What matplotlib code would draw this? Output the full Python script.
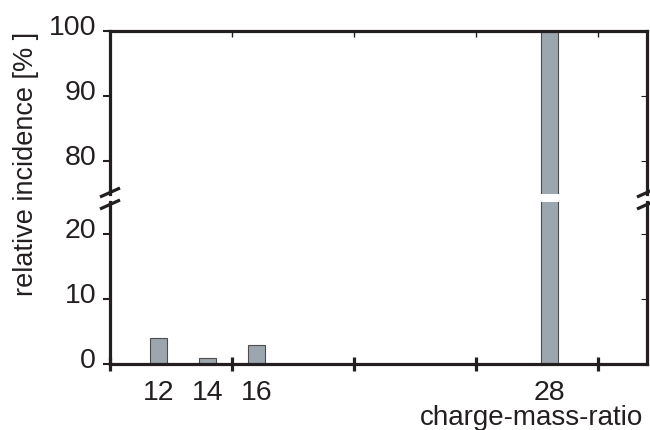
import matplotlib
matplotlib.use("Agg")
import matplotlib.pyplot as plt
from matplotlib.lines import Line2D
from matplotlib.transforms import ScaledTranslation

# Messwerte: Ladung/Masse-Verhältnis und relative Häufigkeit in %
ratios = [12, 14, 16, 28]
incidence = [4, 1, 3, 100]
ratio_labels = ["12", "14", "16", "28"]
grid_ticks = [10, 15, 20, 25, 30]
low_ticks = [0, 10, 20]
high_ticks = [80, 90, 100]

plt.rcParams["font.family"] = ["Liberation Sans", "DejaVu Sans"]
INK = "#231f20"
BAR = "#9ba6ae"
W, H = 650, 431


def box(x0, y0, x1, y1):
    """Pixelrechteck -> Figurkoordinaten."""
    return [x0 / W, 1 - y1 / H, (x1 - x0) / W, (y1 - y0) / H]


fig = plt.figure(figsize=(W / 100, H / 100), dpi=100)
ax_hi = fig.add_axes(box(110, 32, 647, 195))
ax_lo = fig.add_axes(box(110, 203, 647, 365))

for ax in (ax_hi, ax_lo):
    ax.bar(ratios, incidence, width=0.7, color=BAR,
           edgecolor="#4d4d4d", linewidth=0.8, zorder=1)
    ax.set_xlim(10, 32)
    for side in ("left", "right", "top", "bottom"):
        ax.spines[side].set_linewidth(2.3)
        ax.spines[side].set_color(INK)
        ax.spines[side].set_zorder(3)
    ax.tick_params(axis="y", direction="out", length=5, width=1.5,
                   color=INK, labelsize=20.5, pad=5, labelcolor=INK)

ax_hi.set_ylim(75, 100)
ax_lo.set_ylim(0, 25)
ax_hi.spines["bottom"].set_visible(False)
ax_lo.spines["top"].set_visible(False)

ax_hi.set_yticks(high_ticks)
ax_lo.set_yticks(low_ticks)

# kleine Markierungen innen an der rechten Achse
for ax, ticks in ((ax_hi, high_ticks), (ax_lo, low_ticks)):
    sec = ax.secondary_yaxis("right")
    sec.set_yticks(ticks)
    sec.tick_params(direction="in", length=4, width=0.8, color=INK,
                    labelright=False)
    sec.spines["right"].set_visible(False)

# Beschriftungen etwas nach oben schieben
shift = ScaledTranslation(0, 0.07, fig.dpi_scale_trans)
for ax in (ax_hi, ax_lo):
    for lab in ax.get_yticklabels():
        lab.set_transform(lab.get_transform() + shift)

# oben: kleine Striche nach innen
ax_hi.set_xticks(grid_ticks[1:])
ax_hi.tick_params(axis="x", top=True, bottom=False, direction="in",
                  length=4, width=1, color=INK, labelbottom=False)

# unten: Rasterstriche ohne Text, Werte als Nebenmarken
ax_lo.set_xticks(grid_ticks)
ax_lo.tick_params(axis="x", which="major", direction="inout", length=10,
                  width=2.3, color=INK, labelbottom=False)
ax_lo.set_xticks(ratios, minor=True)
ax_lo.set_xticklabels(ratio_labels, minor=True)
ax_lo.tick_params(axis="x", which="minor", length=0, pad=11,
                  labelsize=20.5, labelcolor=INK)

# Bruchzeichen an beiden Achsen
for xc, dx in ((110, 10), (647, 10)):
    for y_a, y_b in ((198, 189), (210, 201)):
        fig.add_artist(Line2D([(xc - dx) / W, (xc + dx) / W],
                              [1 - y_a / H, 1 - y_b / H],
                              color=INK, lw=2.3, solid_capstyle="butt"))

fig.text(26 / W, 1 - 164 / H, "relative incidence [% ]", rotation=90,
         ha="center", va="center", fontsize=19.5, color=INK)
fig.text(643 / W, 1 - 418 / H, "charge-mass-ratio", ha="right",
         va="center", fontsize=20, color=INK)

fig.savefig("out.png", dpi=100)
